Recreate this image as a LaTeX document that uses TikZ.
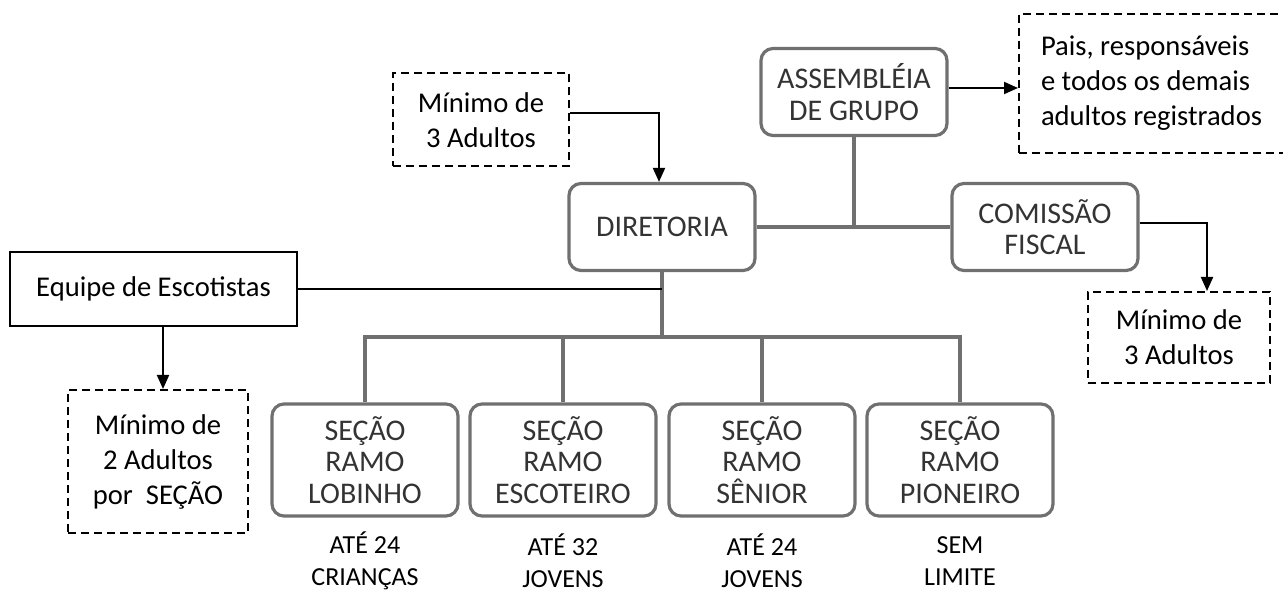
\documentclass[tikz,border=0pt]{standalone}
\usepackage{fontspec}
\setmainfont{Carlito}
\usepackage{xcolor}
\usepackage{tikz}
\usetikzlibrary{shapes,positioning,arrows.meta}
\definecolor{boxgray}{HTML}{707070}
\definecolor{txtgray}{HTML}{333333}
\tikzset{org/.style={rectangle,rounded corners=6pt,draw=boxgray,line width=1.6pt,text=txtgray,align=center,minimum width=93pt,minimum height=43.5pt,inner sep=2pt,font=\fontsize{15}{15.75}\selectfont}}
\tikzset{sec/.style={org,minimum height=56pt}}
\tikzset{note/.style={rectangle,draw,line width=1pt,dash pattern=on 4pt off 2.5pt,align=center,inner sep=2pt,font=\fontsize{14.3}{17.5}\selectfont}}
\tikzset{gl/.style={draw=boxgray,line width=1.6pt}}
\tikzset{lim/.style={align=center,font=\fontsize{13}{16}\selectfont}}

\begin{document}
\begin{tikzpicture}[>={Triangle[length=7pt,width=6pt]},x=0.5pt,y=-0.5pt]
    \useasboundingbox (0,0) rectangle (1283,592);
    \node[org] (ass)at (854,92) {ASSEMBLÉIA\\DE GRUPO};
    \node[org] (dir)at (662,227) {DIRETORIA};
    \node[org] (com)at (1045,227) {COMISSÃO\\FISCAL};
    \node[sec] (lob)at (365,460) {SEÇÃO\\RAMO\\LOBINHO};
    \node[sec] (esc)at (563,460) {SEÇÃO\\RAMO\\ESCOTEIRO};
    \node[sec] (sen)at (762,460) {SEÇÃO\\RAMO\\SÊNIOR};
    \node[sec] (pio)at (960,460) {SEÇÃO\\RAMO\\PIONEIRO};

    \node[lim] (llob)at (365,561) {ATÉ 24\\CRIANÇAS};
    \node[lim] (lesc)at (563,561) {ATÉ 32\\JOVENS};
    \node[lim] (lsen)at (762,561) {ATÉ 24\\JOVENS};
    \node[lim] (lpio)at (960,561) {SEM\\LIMITE};

    \node[note,minimum width=88pt,minimum height=46.5pt] (mta)at (481,120) {Mínimo de\\3 Adultos};
    \node[note,minimum width=91pt,minimum height=45.5pt] (mtb)at (1179,337.5) {Mínimo de\\3 Adultos};
    \node[note,minimum width=90pt,minimum height=71.5pt] (mdo)at (158,461.5) {Mínimo de\\2 Adultos\\por\ \ SEÇÃO};
    \node[note,anchor=west,align=flush left,text width=125pt,inner xsep=11pt,minimum height=69.5pt] (pais)at (1018,83.5) {Pais, responsáveis\\e todos os demais\\adultos registrados};
    \node[draw,line width=1pt,minimum width=143.5pt,minimum height=37pt,font=\fontsize{14.3}{17.5}\selectfont] (eq)at (153.5,289) {Equipe de Escotistas};

    \coordinate (bus)at (662,337);

    % estrutura
    \draw [gl] (dir.east) to [] (com.west);
    \draw [gl] (ass.south) to [] (ass.south |- dir.east);
    \draw [gl] (dir.south) to [] (bus);
    \draw [gl] (lob.north) |- (pio.north |- bus) -- (pio.north);
    \draw [gl] (esc.north) to [] (esc.north |- bus);
    \draw [gl] (sen.north) to [] (sen.north |- bus);

    % notas
    \draw [line width=1pt] (eq.east) to [] (eq.east -| dir.south);
    \draw [->,line width=1pt] ([yshift=3.25pt]mta.east) -| ([xshift=-1.5pt]dir.north);
    \draw [->,line width=1pt] ([yshift=2pt]ass.east) -- ([yshift=2pt]ass.east -| pais.west);
    \draw [->,line width=1pt] ([yshift=2pt]com.east) -| ([xshift=14pt]mtb.north);
    \draw [->,line width=1pt] ([xshift=4.75pt]eq.south) -- ([xshift=4.75pt]eq.south |- mdo.north);
\end{tikzpicture}
\end{document}
